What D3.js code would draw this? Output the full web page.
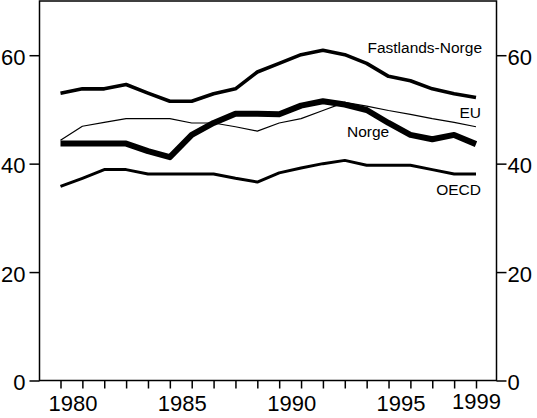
<!DOCTYPE html>
<html>
<head>
<meta charset="utf-8">
<script src="https://cdn.jsdelivr.net/npm/d3@7"></script>
<style>
  body { margin: 0; background: #fff; }
  svg { display: block; font-family: "Liberation Sans", Arial, Helvetica, sans-serif; }
</style>
</head>
<body>
<svg width="537" height="418"></svg>
<script>
// Data
const years = d3.range(1980, 2000);
const fastlandsNorge = [53.0, 53.8, 53.8, 54.6, 53.0, 51.5, 51.5, 52.9, 53.8, 56.9,
                        58.5, 60.1, 60.9, 60.1, 58.5, 56.1, 55.3, 53.8, 52.9, 52.2];
const norge = [43.7, 43.7, 43.7, 43.7, 42.3, 41.2, 45.3, 47.5, 49.2, 49.2,
               49.1, 50.7, 51.5, 50.9, 49.9, 47.5, 45.3, 44.5, 45.3, 43.6];
const eu = [44.3, 46.9, 47.6, 48.3, 48.3, 48.3, 47.5, 47.5, 46.8, 46.0,
            47.5, 48.3, 49.8, 51.3, 50.6, 49.8, 49.1, 48.3, 47.6, 46.8];
const oecd = [35.8, 37.3, 38.9, 38.9, 38.1, 38.1, 38.1, 38.1, 37.3, 36.6,
              38.3, 39.2, 40.0, 40.6, 39.7, 39.7, 39.7, 38.9, 38.1, 38.1];
const yTicks = [0, 20, 40, 60];
const xLabels = [1980, 1985, 1990, 1995, 1999];

const series = [
  { name: "OECD", values: oecd, width: 3 },
  { name: "EU", values: eu, width: 1.2 },
  { name: "Fastlands-Norge", values: fastlandsNorge, width: 3.6 },
  { name: "Norge", values: norge, width: 6 }
];

// placement of the line labels (pixels)
const labelPos = {
  "Fastlands-Norge": { x: 482, y: 53, anchor: "end" },
  "EU": { x: 481, y: 117.5, anchor: "end" },
  "Norge": { x: 347, y: 136.5, anchor: "start" },
  "OECD": { x: 481, y: 194.5, anchor: "end" }
};

const svg = d3.select("svg");
const mLeft = 39.5, mRight = 496.5, mTop = 1, mBottom = 380.5;

const x = d3.scaleLinear().domain([1980, 1999]).range([60.5, 476]);
const y = d3.scaleLinear().domain([0, 70]).range([mBottom, mTop]);

// cadre
svg.append("rect")
  .attr("x", mLeft).attr("y", mTop)
  .attr("width", mRight - mLeft).attr("height", mBottom - mTop)
  .attr("fill", "none").attr("stroke", "#000").attr("stroke-width", 1.5);

// axe gauche
const gL = svg.append("g")
  .attr("transform", `translate(${mLeft},0)`)
  .call(d3.axisLeft(y).tickValues(yTicks).tickSize(10).tickPadding(4));

// axe droit
const gR = svg.append("g")
  .attr("transform", `translate(${mRight},0)`)
  .call(d3.axisRight(y).tickValues(yTicks).tickSize(10).tickPadding(1));

// axe du bas
const gB = svg.append("g")
  .attr("transform", `translate(0,${mBottom})`)
  .call(d3.axisBottom(x).tickValues(years).tickSize(8)
    .tickFormat(d => xLabels.includes(d) ? d : ""));

[gL, gR, gB].forEach(g => {
  g.select(".domain").remove();
  g.selectAll("line").attr("stroke", "#000").attr("stroke-width", 1.5);
  g.selectAll("text").attr("font-size", 22).attr("fill", "#000")
    .attr("font-family", "'Liberation Sans', Arial, sans-serif");
});
gL.selectAll("text").attr("dy", "0.42em");
gR.selectAll("text").attr("dy", "0.42em");
gB.selectAll("text")
  .attr("y", 0).attr("dy", 0)
  .attr("dx", d => d === 1999 ? 0 : 12)
  .attr("transform", d => `translate(0,${d === 1999 ? 28 : 30.5})`);

// courbes
const line = d3.line()
  .x((d, i) => x(years[i]))
  .y(d => y(d))
  .curve(d3.curveLinear);

svg.selectAll("path.serie")
  .data(series)
  .join("path")
  .attr("class", "serie")
  .attr("d", d => line(d.values))
  .attr("fill", "none")
  .attr("stroke", "#000")
  .attr("stroke-width", d => d.width)
  .attr("stroke-linejoin", "round")
  .attr("stroke-linecap", "butt");

// étiquettes
svg.selectAll("text.lab")
  .data(series)
  .join("text")
  .attr("class", "lab")
  .attr("x", d => labelPos[d.name].x)
  .attr("y", d => labelPos[d.name].y)
  .attr("text-anchor", d => labelPos[d.name].anchor)
  .attr("font-size", 15.5)
  .text(d => d.name);
</script>
</body>
</html>
